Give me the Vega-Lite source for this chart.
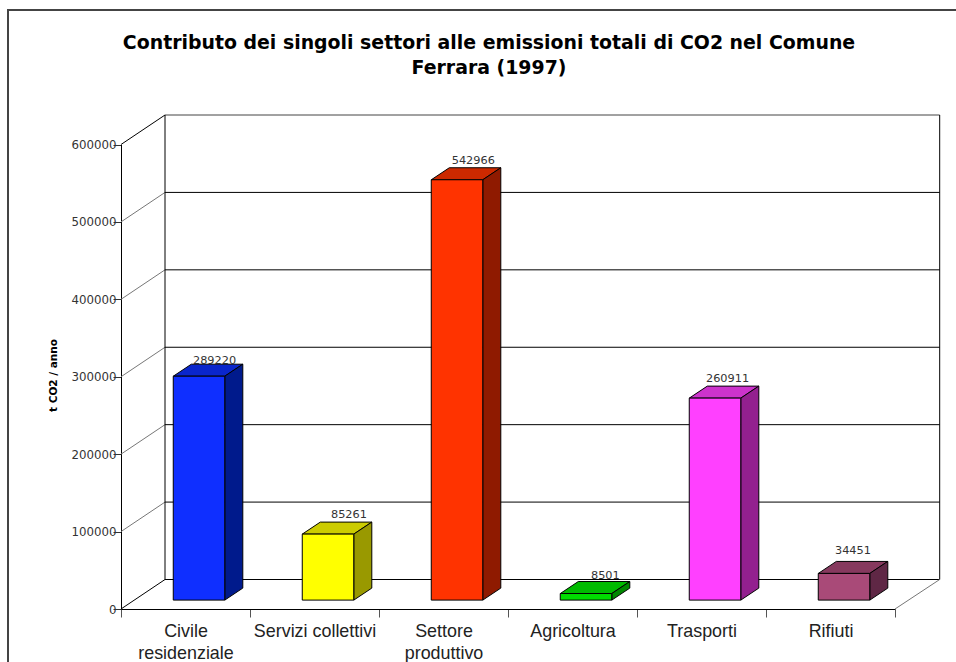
{
  "$schema": "https://vega.github.io/schema/vega-lite/v6.json",
  "width": 950,
  "height": 660,
  "padding": {"left": 8, "top": 10, "right": 0, "bottom": 0},
  "autosize": "none",
  "background": "white",
  "view": {"stroke": "#444444", "strokeWidth": 2, "fill": "white"},
  "title": {
    "text": ["Contributo dei singoli settori alle emissioni totali di CO2 nel Comune", "Ferrara (1997)"],
    "font": "DejaVu Sans",
    "fontWeight": "bold",
    "fontSize": 18.9,
    "lineHeight": 25,
    "color": "black",
    "anchor": "start",
    "align": "center",
    "frame": "group",
    "orient": "top",
    "dx": 481,
    "offset": -83,
    "baseline": "alphabetic"
  },
  "datasets": {
    "settori": [
      {"settore": "Civile residenziale", "valore": 289220},
      {"settore": "Servizi collettivi", "valore": 85261},
      {"settore": "Settore produttivo", "valore": 542966},
      {"settore": "Agricoltura", "valore": 8501},
      {"settore": "Trasporti", "valore": 260911},
      {"settore": "Rifiuti", "valore": 34451}
    ],
    "telaio": [
      {"tratto": "p0", "tipo": "spigolo", "settore": "Civile residenziale", "valore": 0, "punto": "fronte", "ordine": 0},
      {"tratto": "p0", "tipo": "spigolo", "settore": "Civile residenziale", "valore": 0, "punto": "retro", "ordine": 1},
      {"tratto": "p1", "tipo": "profondita", "settore": "Civile residenziale", "valore": 100000, "punto": "fronte", "ordine": 0},
      {"tratto": "p1", "tipo": "profondita", "settore": "Civile residenziale", "valore": 100000, "punto": "retro", "ordine": 1},
      {"tratto": "p2", "tipo": "profondita", "settore": "Civile residenziale", "valore": 200000, "punto": "fronte", "ordine": 0},
      {"tratto": "p2", "tipo": "profondita", "settore": "Civile residenziale", "valore": 200000, "punto": "retro", "ordine": 1},
      {"tratto": "p3", "tipo": "profondita", "settore": "Civile residenziale", "valore": 300000, "punto": "fronte", "ordine": 0},
      {"tratto": "p3", "tipo": "profondita", "settore": "Civile residenziale", "valore": 300000, "punto": "retro", "ordine": 1},
      {"tratto": "p4", "tipo": "profondita", "settore": "Civile residenziale", "valore": 400000, "punto": "fronte", "ordine": 0},
      {"tratto": "p4", "tipo": "profondita", "settore": "Civile residenziale", "valore": 400000, "punto": "retro", "ordine": 1},
      {"tratto": "p5", "tipo": "profondita", "settore": "Civile residenziale", "valore": 500000, "punto": "fronte", "ordine": 0},
      {"tratto": "p5", "tipo": "profondita", "settore": "Civile residenziale", "valore": 500000, "punto": "retro", "ordine": 1},
      {"tratto": "p6", "tipo": "spigolo", "settore": "Civile residenziale", "valore": 600000, "punto": "fronte", "ordine": 0},
      {"tratto": "p6", "tipo": "spigolo", "settore": "Civile residenziale", "valore": 600000, "punto": "retro", "ordine": 1},
      {"tratto": "g0", "tipo": "griglia", "settore": "Civile residenziale", "valore": 0, "punto": "retro", "ordine": 0},
      {"tratto": "g0", "tipo": "griglia", "settore": "Rifiuti", "valore": 0, "punto": "fine", "ordine": 1},
      {"tratto": "g1", "tipo": "griglia", "settore": "Civile residenziale", "valore": 100000, "punto": "retro", "ordine": 0},
      {"tratto": "g1", "tipo": "griglia", "settore": "Rifiuti", "valore": 100000, "punto": "fine", "ordine": 1},
      {"tratto": "g2", "tipo": "griglia", "settore": "Civile residenziale", "valore": 200000, "punto": "retro", "ordine": 0},
      {"tratto": "g2", "tipo": "griglia", "settore": "Rifiuti", "valore": 200000, "punto": "fine", "ordine": 1},
      {"tratto": "g3", "tipo": "griglia", "settore": "Civile residenziale", "valore": 300000, "punto": "retro", "ordine": 0},
      {"tratto": "g3", "tipo": "griglia", "settore": "Rifiuti", "valore": 300000, "punto": "fine", "ordine": 1},
      {"tratto": "g4", "tipo": "griglia", "settore": "Civile residenziale", "valore": 400000, "punto": "retro", "ordine": 0},
      {"tratto": "g4", "tipo": "griglia", "settore": "Rifiuti", "valore": 400000, "punto": "fine", "ordine": 1},
      {"tratto": "g5", "tipo": "griglia", "settore": "Civile residenziale", "valore": 500000, "punto": "retro", "ordine": 0},
      {"tratto": "g5", "tipo": "griglia", "settore": "Rifiuti", "valore": 500000, "punto": "fine", "ordine": 1},
      {"tratto": "g6", "tipo": "bordo", "settore": "Civile residenziale", "valore": 600000, "punto": "retro", "ordine": 0},
      {"tratto": "g6", "tipo": "bordo", "settore": "Rifiuti", "valore": 600000, "punto": "fine", "ordine": 1},
      {"tratto": "vs", "tipo": "griglia", "settore": "Civile residenziale", "valore": 0, "punto": "retro", "ordine": 0},
      {"tratto": "vs", "tipo": "griglia", "settore": "Civile residenziale", "valore": 600000, "punto": "retro", "ordine": 1},
      {"tratto": "vd", "tipo": "griglia", "settore": "Rifiuti", "valore": 0, "punto": "fine", "ordine": 0},
      {"tratto": "vd", "tipo": "griglia", "settore": "Rifiuti", "valore": 600000, "punto": "fine", "ordine": 1},
      {"tratto": "pav", "tipo": "profondita", "settore": "Rifiuti", "valore": 0, "punto": "angolo", "ordine": 0},
      {"tratto": "pav", "tipo": "profondita", "settore": "Rifiuti", "valore": 0, "punto": "fine", "ordine": 1}
    ],
    "facce": [
      {"settore": "Civile residenziale", "faccia": "alto", "valore": 289220, "vertice": "sx-f", "ordine": 0},
      {"settore": "Civile residenziale", "faccia": "alto", "valore": 289220, "vertice": "dx-f", "ordine": 1},
      {"settore": "Civile residenziale", "faccia": "alto", "valore": 289220, "vertice": "dx-r", "ordine": 2},
      {"settore": "Civile residenziale", "faccia": "alto", "valore": 289220, "vertice": "sx-r", "ordine": 3},
      {"settore": "Civile residenziale", "faccia": "fianco", "valore": 289220, "vertice": "dx-f", "ordine": 0},
      {"settore": "Civile residenziale", "faccia": "fianco", "valore": 0, "vertice": "dx-f", "ordine": 1},
      {"settore": "Civile residenziale", "faccia": "fianco", "valore": 0, "vertice": "dx-r", "ordine": 2},
      {"settore": "Civile residenziale", "faccia": "fianco", "valore": 289220, "vertice": "dx-r", "ordine": 3},
      {"settore": "Servizi collettivi", "faccia": "alto", "valore": 85261, "vertice": "sx-f", "ordine": 0},
      {"settore": "Servizi collettivi", "faccia": "alto", "valore": 85261, "vertice": "dx-f", "ordine": 1},
      {"settore": "Servizi collettivi", "faccia": "alto", "valore": 85261, "vertice": "dx-r", "ordine": 2},
      {"settore": "Servizi collettivi", "faccia": "alto", "valore": 85261, "vertice": "sx-r", "ordine": 3},
      {"settore": "Servizi collettivi", "faccia": "fianco", "valore": 85261, "vertice": "dx-f", "ordine": 0},
      {"settore": "Servizi collettivi", "faccia": "fianco", "valore": 0, "vertice": "dx-f", "ordine": 1},
      {"settore": "Servizi collettivi", "faccia": "fianco", "valore": 0, "vertice": "dx-r", "ordine": 2},
      {"settore": "Servizi collettivi", "faccia": "fianco", "valore": 85261, "vertice": "dx-r", "ordine": 3},
      {"settore": "Settore produttivo", "faccia": "alto", "valore": 542966, "vertice": "sx-f", "ordine": 0},
      {"settore": "Settore produttivo", "faccia": "alto", "valore": 542966, "vertice": "dx-f", "ordine": 1},
      {"settore": "Settore produttivo", "faccia": "alto", "valore": 542966, "vertice": "dx-r", "ordine": 2},
      {"settore": "Settore produttivo", "faccia": "alto", "valore": 542966, "vertice": "sx-r", "ordine": 3},
      {"settore": "Settore produttivo", "faccia": "fianco", "valore": 542966, "vertice": "dx-f", "ordine": 0},
      {"settore": "Settore produttivo", "faccia": "fianco", "valore": 0, "vertice": "dx-f", "ordine": 1},
      {"settore": "Settore produttivo", "faccia": "fianco", "valore": 0, "vertice": "dx-r", "ordine": 2},
      {"settore": "Settore produttivo", "faccia": "fianco", "valore": 542966, "vertice": "dx-r", "ordine": 3},
      {"settore": "Agricoltura", "faccia": "alto", "valore": 8501, "vertice": "sx-f", "ordine": 0},
      {"settore": "Agricoltura", "faccia": "alto", "valore": 8501, "vertice": "dx-f", "ordine": 1},
      {"settore": "Agricoltura", "faccia": "alto", "valore": 8501, "vertice": "dx-r", "ordine": 2},
      {"settore": "Agricoltura", "faccia": "alto", "valore": 8501, "vertice": "sx-r", "ordine": 3},
      {"settore": "Agricoltura", "faccia": "fianco", "valore": 8501, "vertice": "dx-f", "ordine": 0},
      {"settore": "Agricoltura", "faccia": "fianco", "valore": 0, "vertice": "dx-f", "ordine": 1},
      {"settore": "Agricoltura", "faccia": "fianco", "valore": 0, "vertice": "dx-r", "ordine": 2},
      {"settore": "Agricoltura", "faccia": "fianco", "valore": 8501, "vertice": "dx-r", "ordine": 3},
      {"settore": "Trasporti", "faccia": "alto", "valore": 260911, "vertice": "sx-f", "ordine": 0},
      {"settore": "Trasporti", "faccia": "alto", "valore": 260911, "vertice": "dx-f", "ordine": 1},
      {"settore": "Trasporti", "faccia": "alto", "valore": 260911, "vertice": "dx-r", "ordine": 2},
      {"settore": "Trasporti", "faccia": "alto", "valore": 260911, "vertice": "sx-r", "ordine": 3},
      {"settore": "Trasporti", "faccia": "fianco", "valore": 260911, "vertice": "dx-f", "ordine": 0},
      {"settore": "Trasporti", "faccia": "fianco", "valore": 0, "vertice": "dx-f", "ordine": 1},
      {"settore": "Trasporti", "faccia": "fianco", "valore": 0, "vertice": "dx-r", "ordine": 2},
      {"settore": "Trasporti", "faccia": "fianco", "valore": 260911, "vertice": "dx-r", "ordine": 3},
      {"settore": "Rifiuti", "faccia": "alto", "valore": 34451, "vertice": "sx-f", "ordine": 0},
      {"settore": "Rifiuti", "faccia": "alto", "valore": 34451, "vertice": "dx-f", "ordine": 1},
      {"settore": "Rifiuti", "faccia": "alto", "valore": 34451, "vertice": "dx-r", "ordine": 2},
      {"settore": "Rifiuti", "faccia": "alto", "valore": 34451, "vertice": "sx-r", "ordine": 3},
      {"settore": "Rifiuti", "faccia": "fianco", "valore": 34451, "vertice": "dx-f", "ordine": 0},
      {"settore": "Rifiuti", "faccia": "fianco", "valore": 0, "vertice": "dx-f", "ordine": 1},
      {"settore": "Rifiuti", "faccia": "fianco", "valore": 0, "vertice": "dx-r", "ordine": 2},
      {"settore": "Rifiuti", "faccia": "fianco", "valore": 34451, "vertice": "dx-r", "ordine": 3}
    ]
  },
  "encoding": {
    "x": {
      "field": "settore",
      "type": "nominal",
      "sort": ["Civile residenziale", "Servizi collettivi", "Settore produttivo", "Agricoltura", "Trasporti", "Rifiuti"],
      "scale": {"domain": ["Civile residenziale", "Servizi collettivi", "Settore produttivo", "Agricoltura", "Trasporti", "Rifiuti"], "range": [113, 887], "paddingInner": 0, "paddingOuter": 0},
      "axis": {
        "title": null,
        "offset": -61,
        "tickBand": "extent",
        "labelAngle": 0,
        "labelFont": "Liberation Sans",
        "labelFontSize": 17.9,
        "labelColor": "#222222",
        "labelPadding": 5,
        "labelLimit": 0,
        "labelLineHeight": 22.5,
        "labelExpr": "datum.value == 'Civile residenziale' ? ['Civile', 'residenziale'] : datum.value == 'Settore produttivo' ? ['Settore', 'produttivo'] : datum.value",
        "tickSize": 8,
        "tickColor": "#555555",
        "domainColor": "black",
        "grid": false
      }
    },
    "y": {
      "field": "valore",
      "type": "quantitative",
      "stack": null,
      "scale": {"domain": [0, 600000], "range": [599, 134.5], "nice": false},
      "axis": {
        "title": "t CO2 / anno",
        "titleFont": "DejaVu Sans",
        "titleFontSize": 10.5,
        "titleFontWeight": "bold",
        "titleColor": "black",
        "titleX": -63,
        "titleY": 365,
        "offset": -113,
        "values": [0, 100000, 200000, 300000, 400000, 500000, 600000],
        "format": "d",
        "labelFont": "DejaVu Sans",
        "labelFontSize": 11.8,
        "labelColor": "#333333",
        "labelPadding": -3,
        "tickSize": 8,
        "tickColor": "#333333",
        "domainColor": "black",
        "grid": false
      }
    }
  },
  "layer": [
    {
      "data": {"name": "telaio"},
      "mark": {
        "type": "line",
        "strokeWidth": 1,
        "xOffset": {"expr": "datum.punto == 'fronte' ? -64.5 : datum.punto == 'retro' ? -20.5 : datum.punto == 'fine' ? 109.2 : 64.5"},
        "yOffset": {"expr": "datum.punto == 'retro' || datum.punto == 'fine' ? -29.5 : 0"}
      },
      "encoding": {
        "detail": {"field": "tratto"},
        "order": {"field": "ordine"},
        "color": {"field": "tipo", "type": "nominal", "legend": null, "scale": {"domain": ["griglia", "spigolo", "profondita", "bordo"], "range": ["black", "black", "#777777", "#444444"]}}
      }
    },
    {
      "data": {"name": "facce"},
      "transform": [{"filter": "datum.faccia == 'alto'"}],
      "mark": {
        "type": "line",
        "interpolate": "linear-closed",
        "stroke": "black",
        "strokeWidth": 1,
        "xOffset": {"expr": "datum.vertice == 'sx-f' ? -12.2 : datum.vertice == 'dx-f' ? 39.3 : datum.vertice == 'sx-r' ? 5.8 : 57.3"},
        "yOffset": {"expr": "datum.vertice == 'sx-f' || datum.vertice == 'dx-f' ? -8.9 : -20.9"}
      },
      "encoding": {
        "order": {"field": "ordine"},
        "fill": {"field": "settore", "type": "nominal", "legend": null, "scale": {"domain": ["Civile residenziale", "Servizi collettivi", "Settore produttivo", "Agricoltura", "Trasporti", "Rifiuti"], "range": ["#0a26cc", "#cccc00", "#cc2900", "#00bb00", "#cc33cc", "#86395e"]}}
      }
    },
    {
      "data": {"name": "facce"},
      "transform": [{"filter": "datum.faccia == 'fianco'"}],
      "mark": {
        "type": "line",
        "interpolate": "linear-closed",
        "stroke": "black",
        "strokeWidth": 1,
        "xOffset": {"expr": "datum.vertice == 'sx-f' ? -12.2 : datum.vertice == 'dx-f' ? 39.3 : datum.vertice == 'sx-r' ? 5.8 : 57.3"},
        "yOffset": {"expr": "datum.vertice == 'sx-f' || datum.vertice == 'dx-f' ? -8.9 : -20.9"}
      },
      "encoding": {
        "order": {"field": "ordine"},
        "fill": {"field": "settore", "type": "nominal", "legend": null, "scale": {"domain": ["Civile residenziale", "Servizi collettivi", "Settore produttivo", "Agricoltura", "Trasporti", "Rifiuti"], "range": ["#001a8c", "#999900", "#8f1a00", "#008800", "#93208f", "#5f2745"]}}
      }
    },
    {
      "data": {"name": "settori"},
      "mark": {"type": "bar", "width": 51.5, "xOffset": 13.5, "yOffset": -8.9, "y2Offset": -8.9, "stroke": "black", "strokeWidth": 1},
      "encoding": {
        "y2": {"datum": 0},
        "fill": {"field": "settore", "type": "nominal", "legend": null, "scale": {"domain": ["Civile residenziale", "Servizi collettivi", "Settore produttivo", "Agricoltura", "Trasporti", "Rifiuti"], "range": ["#0f2fff", "#ffff00", "#ff3300", "#00dd00", "#ff40ff", "#a94a78"]}}
      }
    },
    {
      "data": {"name": "settori"},
      "mark": {
        "type": "text",
        "align": "left",
        "baseline": "alphabetic",
        "font": "DejaVu Sans",
        "fontSize": 11.3,
        "color": "#333333",
        "xOffset": {"expr": "datum.settore == 'Civile residenziale' ? 7.5 : datum.settore == 'Servizi collettivi' ? 16.5 : datum.settore == 'Settore produttivo' ? 8.2 : datum.settore == 'Agricoltura' ? 18.5 : 4.5"},
        "yOffset": {"expr": "datum.settore == 'Civile residenziale' ? -21 : datum.settore == 'Agricoltura' ? -23 : datum.settore == 'Rifiuti' ? -28.3 : -24.6"}
      },
      "encoding": {
        "text": {"field": "valore", "type": "quantitative", "format": "d"}
      }
    }
  ],
  "resolve": {"scale": {"fill": "independent"}}
}
